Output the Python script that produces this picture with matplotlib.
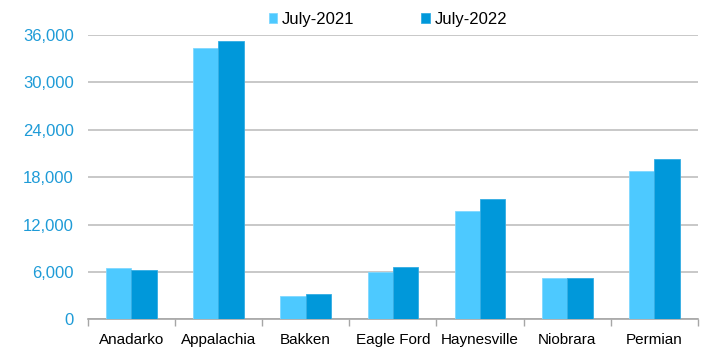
import numpy as np
import matplotlib
matplotlib.use('Agg')
import matplotlib.pyplot as plt
from matplotlib.ticker import FuncFormatter, FixedLocator

plt.rcParams['font.family'] = ['Liberation Sans', 'DejaVu Sans']

# Data
regions = ['Anadarko', 'Appalachia', 'Bakken', 'Eagle Ford', 'Haynesville', 'Niobrara', 'Permian']
july_2021 = [6450, 34400, 2950, 6000, 13650, 5250, 18800]
july_2022 = [6300, 35300, 3150, 6650, 15200, 5200, 20350]
y_ticks = [0, 6000, 12000, 18000, 24000, 30000, 36000]

light = '#4DC9FF'
dark = '#0098DA'

fig = plt.figure(figsize=(7.13, 3.47), dpi=100)
ax = fig.add_axes([0.123, 0.080, 0.856, 0.819])

x = np.arange(len(regions))
w = 0.29
ax.bar(x - w / 2, july_2021, w, color=light, edgecolor='#7FD8FF', linewidth=0.6, label='July-2021', zorder=3)
ax.bar(x + w / 2, july_2022, w, color=dark, edgecolor='#33ADE3', linewidth=0.6, label='July-2022', zorder=3)

ax.set_xlim(-0.5, len(regions) - 0.5)
ax.set_ylim(0, 36000)
ax.set_yticks(y_ticks)
ax.yaxis.set_major_formatter(FuncFormatter(lambda v, p: f'{int(v):,}'))
ax.tick_params(axis='y', length=0, labelsize=12, labelcolor='#1E9BD7', pad=10)
ax.grid(axis='y', color='#BFBFBF', linewidth=1.2, zorder=0)

ax.set_xticks(x)
ax.set_xticklabels(regions, fontsize=11)
ax.tick_params(axis='x', which='major', length=0, pad=10)
ax.xaxis.set_minor_locator(FixedLocator(np.arange(-0.5, len(regions), 1)))
ax.tick_params(axis='x', which='minor', length=5, color='#A6A6A6', width=1)

for s in ['left', 'right', 'top']:
    ax.spines[s].set_visible(False)
ax.spines['bottom'].set_color('#A6A6A6')
ax.spines['bottom'].set_linewidth(1.2)

ax.legend(loc='lower center', bbox_to_anchor=(0.492, 1.0), ncol=2, frameon=False,
          fontsize=12, handlelength=0.5, handleheight=0.5, handletextpad=0.3,
          columnspacing=4.0, borderaxespad=0.1)

fig.savefig('out.png', dpi=100)
